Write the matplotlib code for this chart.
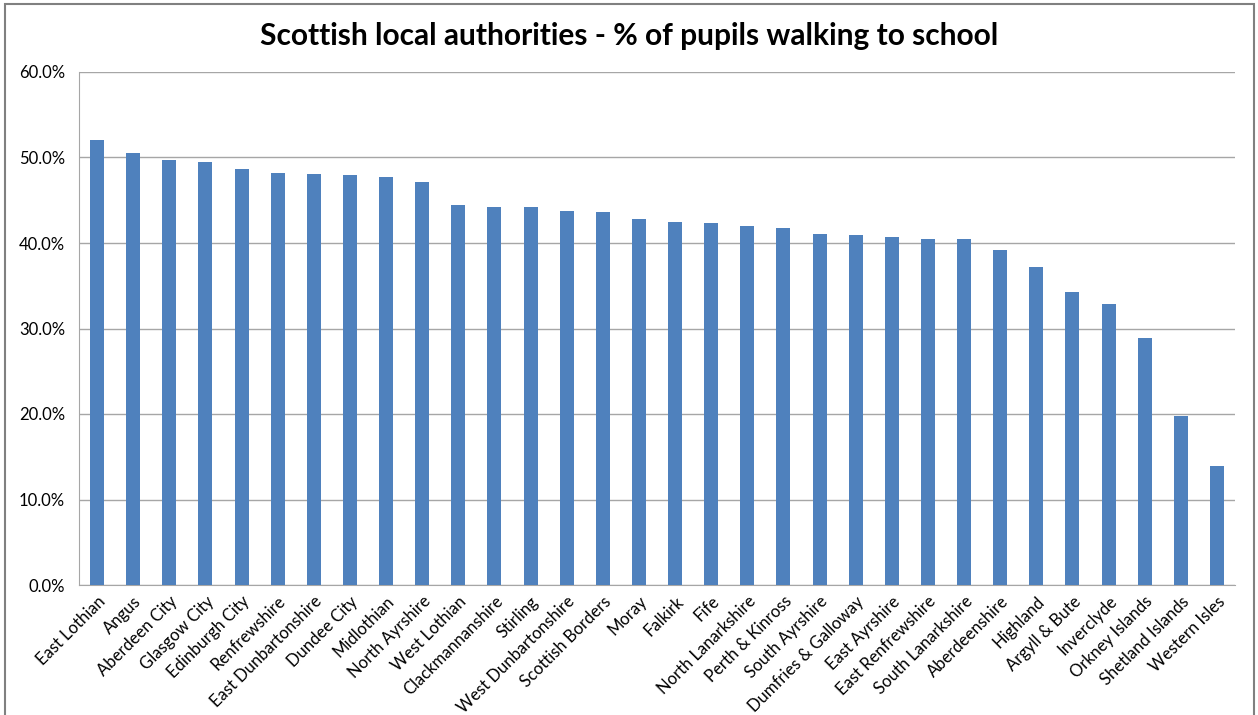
import matplotlib.pyplot as plt
from matplotlib.patches import Rectangle
from matplotlib.ticker import FuncFormatter

autoridades = [
    "East Lothian", "Angus", "Aberdeen City", "Glasgow City", "Edinburgh City",
    "Renfrewshire", "East Dunbartonshire", "Dundee City", "Midlothian",
    "North Ayrshire", "West Lothian", "Clackmannanshire", "Stirling",
    "West Dunbartonshire", "Scottish Borders", "Moray", "Falkirk", "Fife",
    "North Lanarkshire", "Perth & Kinross", "South Ayrshire",
    "Dumfries & Galloway", "East Ayrshire", "East Renfrewshire",
    "South Lanarkshire", "Aberdeenshire", "Highland", "Argyll & Bute",
    "Inverclyde", "Orkney Islands", "Shetland Islands", "Western Isles",
]
porcentajes = [
    52.0, 50.5, 49.7, 49.5, 48.7, 48.2, 48.1, 48.0, 47.7, 47.1,
    44.4, 44.2, 44.2, 43.7, 43.6, 42.8, 42.5, 42.3, 42.0, 41.8,
    41.1, 40.9, 40.7, 40.5, 40.5, 39.2, 37.2, 34.3, 32.9, 28.9,
    19.8, 13.9,
]
ticks_y = [0, 10, 20, 30, 40, 50, 60]

plt.rcParams['font.family'] = ['Lato', 'DejaVu Sans']

fig = plt.figure(figsize=(12.58, 7.15), dpi=100)
ax = fig.add_axes([79 / 1258, 1 - 585 / 715, (1235 - 79) / 1258, (585 - 72) / 715])

# marco exterior del gráfico
fig.patches.append(Rectangle((5 / 1258, -0.01), 1249 / 1258, 1 - 4 / 715 + 0.01,
                             transform=fig.transFigure, fill=False,
                             edgecolor='#808080', linewidth=1.5))

x = range(len(autoridades))
ax.bar(x, porcentajes, width=0.39, color='#4F81BD', zorder=3)

ax.set_xlim(-0.5, len(autoridades) - 0.5)
ax.set_ylim(0, 60)
ax.set_yticks(ticks_y)
ax.yaxis.set_major_formatter(FuncFormatter(lambda v, p: f'{v:.1f}%'))
ax.grid(axis='y', color='#A6A6A6', linewidth=1, zorder=0)

ax.set_xticks(list(x))
ax.set_xticklabels(autoridades, rotation=45, ha='right', rotation_mode='anchor',
                   fontsize=12)
ax.tick_params(axis='both', length=0, labelsize=12)
ax.tick_params(axis='y', pad=10)
ax.tick_params(axis='x', pad=6)

for lado in ['top', 'right']:
    ax.spines[lado].set_visible(False)
ax.spines['left'].set_color('#A6A6A6')
ax.spines['bottom'].set_color('#A6A6A6')

fig.text(0.5, 1 - 36 / 715, 'Scottish local authorities - % of pupils walking to school',
         ha='center', va='center', fontsize=21.5, fontweight='bold')

plt.savefig('out.png', dpi=100)
plt.close()
